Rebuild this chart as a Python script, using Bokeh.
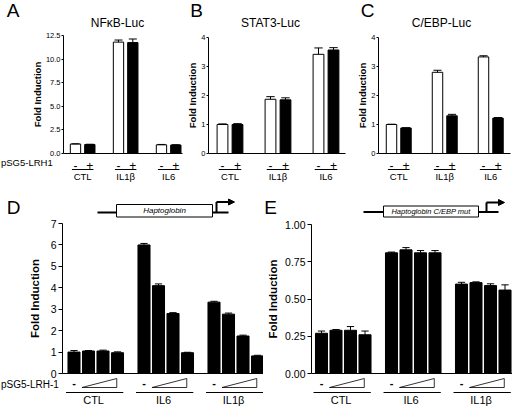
from bokeh.plotting import figure
from bokeh.layouts import column, row
from bokeh.models import (ColumnDataSource, FixedTicker, Range1d, Arrow, NormalHead,
                          LinearAxis, NumeralTickFormatter)
from bokeh.core.properties import value
from bokeh.embed import file_html
from bokeh.resources import INLINE

S = 1.0
FONT = "Liberation Sans"

# ---------------- data ----------------
top_groups = ["CTL", "IL1β", "IL6"]
top_signs = ["-", "+"]
nfkb_fold = [1.00, 0.95, 11.80, 11.75, 0.92, 0.90]
nfkb_sem = [0.03, 0.03, 0.22, 0.38, 0.04, 0.03]
stat3_fold = [1.00, 1.00, 1.87, 1.85, 3.42, 3.57]
stat3_sem = [0.02, 0.03, 0.09, 0.07, 0.22, 0.08]
cebp_fold = [1.00, 0.88, 2.80, 1.30, 3.33, 1.22]
cebp_sem = [0.01, 0.01, 0.07, 0.05, 0.04, 0.02]
nfkb_ticks = [0, 2.5, 5, 7.5, 10, 12.5]
luc_ticks = [0, 1, 2, 3, 4]

bottom_groups = ["CTL", "IL6", "IL1β"]
hapto_fold = [1.00, 1.05, 1.05, 0.97, 6.00, 4.10, 2.80, 0.97, 3.33, 2.77, 1.75, 0.82]
hapto_sem = [0.07, 0.02, 0.04, 0.04, 0.07, 0.08, 0.04, 0.02, 0.04, 0.05, 0.04, 0.03]
mut_fold = [0.27, 0.29, 0.29, 0.26, 0.81, 0.83, 0.81, 0.81, 0.60, 0.61, 0.59, 0.56]
mut_sem = [0.015, 0.005, 0.025, 0.025, 0.005, 0.015, 0.015, 0.015, 0.012, 0.005, 0.012, 0.035]
hapto_ticks = [0, 1, 2, 3, 4, 5, 6, 7]
mut_ticks = [0, 0.25, 0.5, 0.75, 1.0]


def fs(px):
    return f"{px * S:.1f}px"


def make_panel(W, H, fx0, fy0, spine, y0px, ypu, x0px, xpu, ticks, fmt,
               tick_fs, lab_fs, lab_standoff, tick_out, tick_standoff):
    rw, rh = W / S, H / S
    xs = (fx0 - x0px) / xpu
    xe = (fx0 + rw - x0px) / xpu
    ye = (y0px - fy0) / ypu
    ys = (y0px - fy0 - rh) / ypu
    p = figure(frame_width=W, frame_height=H, x_range=Range1d(xs, xe), y_range=Range1d(ys, ye),
               x_axis_location=None, y_axis_location=None, toolbar_location=None,
               output_backend="svg", min_border_left=0, min_border_right=0,
               min_border_top=0, min_border_bottom=0)
    p.outline_line_color = None
    p.grid.visible = False
    p.background_fill_color = "white"
    PX = lambda x: (x - x0px) / xpu
    PY = lambda y: (y0px - y) / ypu
    ax = LinearAxis(fixed_location=PX(spine))
    ax.ticker = FixedTicker(ticks=ticks)
    ax.formatter = NumeralTickFormatter(format=fmt)
    ax.bounds = (0, ticks[-1])
    ax.axis_line_color = "black"
    ax.axis_line_width = 1
    ax.axis_label = "Fold Induction"
    ax.axis_label_text_font = FONT
    ax.axis_label_text_font_style = "bold"
    ax.axis_label_text_font_size = fs(lab_fs)
    ax.axis_label_text_color = "black"
    ax.axis_label_standoff = int(round(lab_standoff * S))
    ax.major_label_text_font = FONT
    ax.major_label_text_font_size = fs(tick_fs)
    ax.major_label_text_color = "black"
    ax.major_label_standoff = int(round(tick_standoff * S))
    ax.major_tick_out = int(round(tick_out * S))
    ax.major_tick_in = 0
    ax.major_tick_line_color = "black"
    ax.minor_tick_line_color = None
    p.add_layout(ax, "left")
    return p, PX, PY


def add_bars(p, vals, errs, n_per, G, width, fills, cap, base_x0, base_x1):
    xs = [(k // n_per) * G + (k % n_per) for k in range(len(vals))]
    src = ColumnDataSource(dict(
        x=xs, top=vals, up=[v + e for v, e in zip(vals, errs)],
        fill=[fills[k % n_per] for k in range(len(vals))],
        cl=[x - cap for x in xs], cr=[x + cap for x in xs]))
    p.segment(x0=[base_x0], y0=[0], x1=[base_x1], y1=[0], line_color="black", line_width=1)
    p.vbar(x="x", top="top", bottom=0, width=width, fill_color="fill", line_color="black",
           line_width=1, source=src)
    p.segment(x0="x", y0="top", x1="x", y1="up", line_color="black", line_width=1, source=src)
    p.segment(x0="cl", y0="up", x1="cr", y1="up", line_color="black", line_width=1, source=src)
    return xs


def txt(p, x, y, t, size, style="normal", align="center"):
    p.text(x=x, y=y, text=t, text_font=value(FONT), text_font_size=value(fs(size)),
           text_font_style=style, text_align=align, text_baseline="middle", text_color="black")


def top_panel(W, fx0, spine, ypu, x0px, xpu, G, vals, errs, ticks, fmt, title, title_x,
              letter, letter_x, base_end_px, with_lrh=False):
    p, PX, PY = make_panel(W, 190, fx0, 0, spine, 153, ypu, x0px, xpu, ticks, fmt,
                           7.5, 9.5, 0, 2.5, 1)
    xs = add_bars(p, vals, errs, 2, G, 0.72, ["white", "black"], 0.28, PX(spine), PX(base_end_px))
    txt(p, xs, [PY(164.5)] * len(xs), top_signs * len(top_groups), 12)
    gx = [g * G for g in range(len(top_groups))]
    p.segment(x0=[x - 0.25 for x in gx], y0=[PY(169)] * 3, x1=[x + 1.25 for x in gx],
              y1=[PY(169)] * 3, line_color="black", line_width=1)
    txt(p, [x + 0.5 for x in gx], [PY(176)] * 3, top_groups, 9.5)
    txt(p, [PX(title_x)], [PY(22)], [title], 12)
    txt(p, [PX(letter_x)], [PY(9.5)], [letter], 19)
    if with_lrh:
        txt(p, [PX(0.5)], [PY(162)], ["pSG5-LRH1"], 9.5, align="left")
    return p


def bottom_panel(W, fx0, spine, ypu, x0px, vals, errs, ticks, fmt, letter, letter_x, gene,
                 gene_geo, lab_standoff):
    xpu, G = 14.5, 70 / 14.5
    p, PX, PY = make_panel(W, 216, fx0, 190, spine, 373, ypu, x0px, xpu, ticks, fmt,
                           10.5, 11.5, lab_standoff, 3.5, 2)
    xs = add_bars(p, vals, errs, 4, G, 0.83, ["black"] * 4, 0.25, PX(spine), PX(fx0 + W / S))
    gx = [g * G for g in range(len(bottom_groups))]
    txt(p, gx, [PY(382.5)] * 3, ["-"] * 3, 11, style="bold")
    p.patches(xs=[[x + 0.55, x + 2.95, x + 2.95] for x in gx],
              ys=[[PY(387), PY(387), PY(378)] for _ in gx],
              fill_color="white", line_color="black", line_width=0.8)
    p.segment(x0=[x - 0.55 for x in gx], y0=[PY(392)] * 3, x1=[x + 3.4 for x in gx],
              y1=[PY(392)] * 3, line_color="black", line_width=1)
    txt(p, [x + 1.35 for x in gx], [PY(399.5)] * 3, bottom_groups, 11)
    txt(p, [PX(letter_x)], [PY(207)], [letter], 19)
    # promoter / gene diagram
    l0, b0, b1, r1, vx, ax1, ly, bt, bb, ay, gsize = gene_geo
    p.segment(x0=[PX(l0), PX(b1)], y0=[PY(ly), PY(ly)], x1=[PX(b0), PX(r1)], y1=[PY(ly), PY(ly)],
              line_color="black", line_width=2)
    p.segment(x0=[PX(vx)], y0=[PY(ly)], x1=[PX(vx)], y1=[PY(ay)], line_color="black", line_width=2)
    p.quad(left=[PX(b0)], right=[PX(b1)], top=[PY(bt)], bottom=[PY(bb)], fill_color="white",
           line_color="black", line_width=1)
    p.add_layout(Arrow(x_start=PX(vx), y_start=PY(ay), x_end=PX(ax1), y_end=PY(ay),
                       line_color="black", line_width=2,
                       end=NormalHead(size=6, fill_color="black", line_color="black")))
    txt(p, [PX((b0 + b1) / 2)], [PY((bt + bb) / 2)], [gene], gsize, style="italic")
    return p, PX, PY


A = top_panel(184, 0, 63, 118 / 12.5, 75, 14.33, 3.0, nfkb_fold, nfkb_sem, nfkb_ticks, "0.0",
              "NFκB-Luc", 117, "A", 12.5, 182, with_lrh=True)
B = top_panel(171, 184, 208, 29, 222, 15, 3.2, stat3_fold, stat3_sem, luc_ticks, "0",
              "STAT3-Luc", 270, "B", 196, 345)
C = top_panel(157, 355, 378, 29, 391, 14.5, 46 / 14.5, cebp_fold, cebp_sem, luc_ticks,
              "0", "C/EBP-Luc", 441, "C", 367, 510)

D, DPX, DPY = bottom_panel(263, 0, 62, 150 / 7, 73.5, hapto_fold, hapto_sem, hapto_ticks, "0",
                           "D", 13, "Haptoglobin",
                           (97, 116, 212, 228, 216, 234, 212, 204, 216.5, 201.5, 8), 7)
txt(D, [DPX(0.5)], [DPY(383.5)], ["pSG5-LRH-1"], 10, align="left")
E, EPX, EPY = bottom_panel(249, 263, 311, 149, 321, mut_fold, mut_sem, mut_ticks, "0.00",
                           "E", 270, "Haptoglobin C/EBP mut",
                           (363, 383, 478, 498, 486, 504, 211.5, 205.5, 216.5, 202, 7.5), 3)

layout = column(row(A, B, C), row(D, E))
open("out.html", "w").write(file_html(layout, INLINE))
